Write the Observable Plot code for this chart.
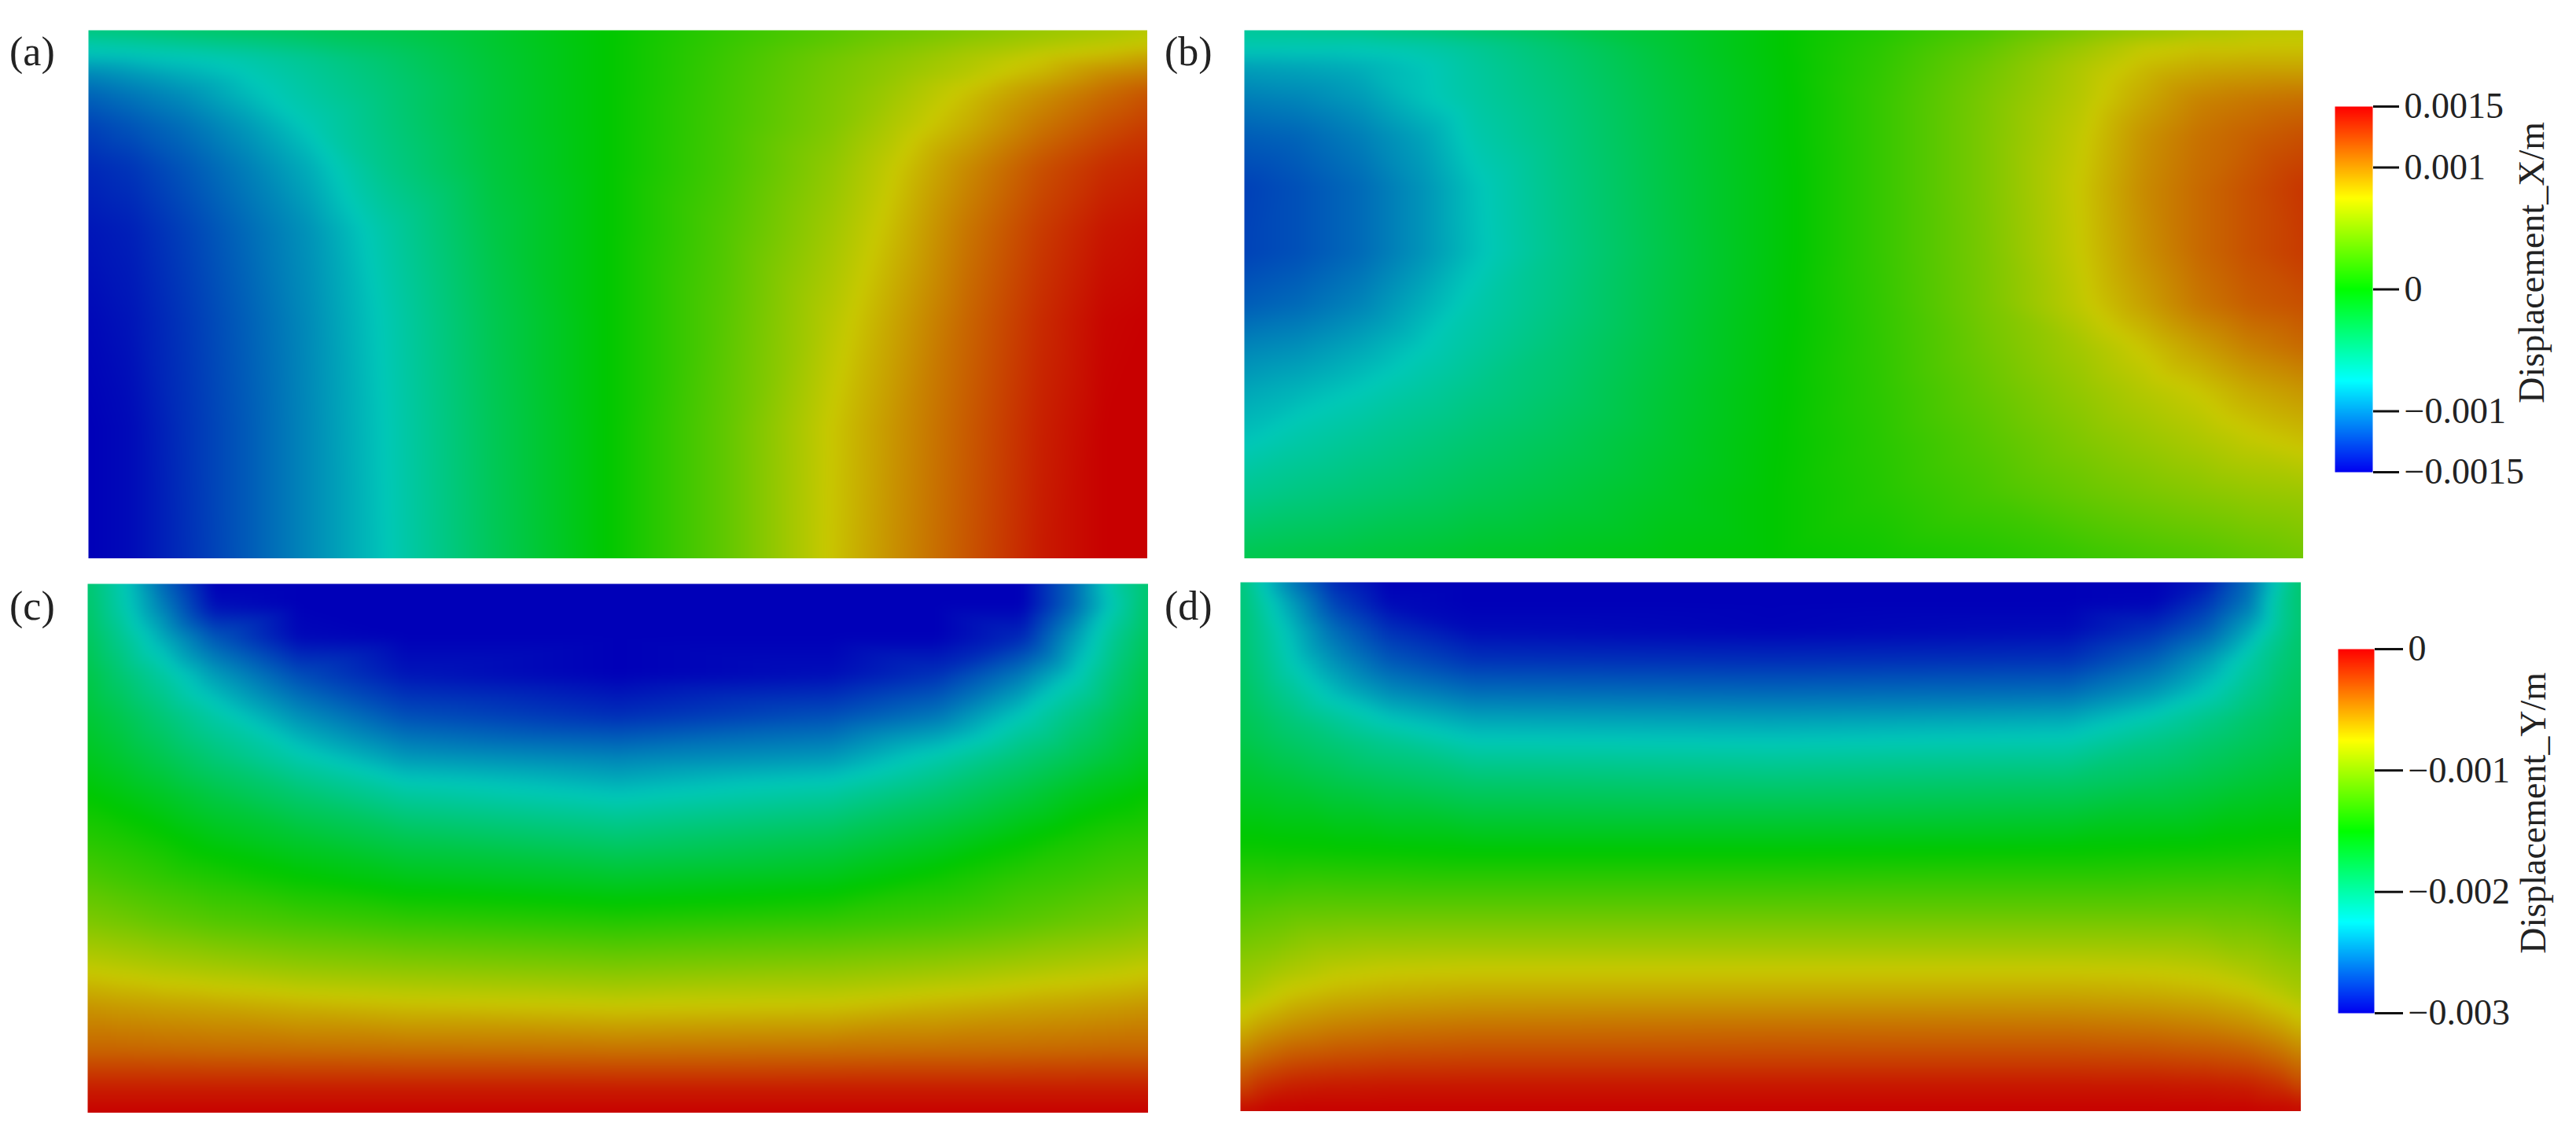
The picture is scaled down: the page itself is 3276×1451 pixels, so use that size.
<!DOCTYPE html>
<html><head><meta charset="utf-8">
<script src="https://cdn.jsdelivr.net/npm/d3@7"></script>
<script src="https://cdn.jsdelivr.net/npm/@observablehq/plot@0.6"></script>
<style>
html,body{margin:0;padding:0;background:#fff}
#root{position:relative;width:3276px;height:1451px;overflow:hidden;font-family:"Liberation Serif",serif}
#root>*{position:absolute}
.tag{font-size:52px;color:#222;line-height:1}
</style></head><body><div id="root"></div>
<script>
// values in millimetres; columns / rows are fractions of each panel's width / height from top-left
const xA=[0,.04,.09,.15,.21,.28,.38,.49,.6,.70,.76,.83,.90,.96,1];
const yA=[0,.025,.05,.08,.12,.18,.26,.38,.55,.75,1];
const zA=[
[-.5,-.48,-.44,-.40,-.36,-.31,-.2,0,.18,.32,.4,.48,.56,.62,.68],
[-.68,-.65,-.6,-.54,-.46,-.37,-.2,0,.2,.36,.46,.56,.64,.70,.74],
[-.8,-.78,-.74,-.68,-.58,-.44,-.22,0,.22,.42,.52,.64,.75,.82,.88],
[-.98,-.92,-.84,-.74,-.62,-.47,-.23,0,.23,.44,.55,.68,.82,.97,1.02],
[-1.12,-1.05,-.96,-.80,-.66,-.5,-.24,0,.24,.46,.60,.78,.96,1.1,1.18],
[-1.25,-1.18,-1.08,-.92,-.73,-.52,-.24,0,.25,.48,.66,.85,1.06,1.2,1.27],
[-1.35,-1.3,-1.18,-1.02,-.84,-.56,-.26,0,.26,.54,.74,.98,1.2,1.33,1.37],
[-1.42,-1.38,-1.26,-1.1,-.94,-.68,-.3,0,.3,.6,.8,1.06,1.28,1.42,1.45],
[-1.47,-1.42,-1.3,-1.14,-.97,-.73,-.34,0,.33,.68,.88,1.12,1.34,1.48,1.5],
[-1.5,-1.46,-1.32,-1.16,-.98,-.75,-.36,0,.36,.75,.94,1.16,1.38,1.5,1.5],
[-1.5,-1.46,-1.33,-1.16,-.98,-.76,-.37,0,.36,.76,.96,1.18,1.4,1.5,1.5]];

const xB=[0,.05,.11,.17,.22,.3,.4,.5,.6,.7,.79,.85,.9,.95,1];
const yB=[0,.03,.07,.13,.2,.3,.42,.52,.6,.68,.78,.88,1];
const zB=[
[-.62,-.6,-.56,-.5,-.44,-.34,-.2,-.02,.12,.28,.46,.55,.62,.68,.7],
[-.72,-.72,-.72,-.68,-.6,-.44,-.22,-.02,.16,.36,.58,.72,.76,.76,.76],
[-.9,-.88,-.84,-.76,-.64,-.47,-.24,-.03,.18,.42,.66,.8,.86,.88,.88],
[-1.03,-1.0,-.92,-.77,-.66,-.5,-.26,-.04,.2,.46,.69,.87,1.0,1.05,1.08],
[-1.15,-1.12,-1.02,-.88,-.7,-.52,-.27,-.04,.2,.47,.73,.95,1.07,1.14,1.2],
[-1.26,-1.2,-1.1,-.94,-.77,-.54,-.28,-.05,.2,.47,.76,.98,1.1,1.2,1.3],
[-1.25,-1.2,-1.1,-.94,-.78,-.55,-.29,-.05,.2,.46,.75,.96,1.1,1.2,1.28],
[-1.15,-1.1,-1.0,-.84,-.7,-.52,-.27,-.04,.19,.45,.72,.9,1.05,1.15,1.2],
[-1.0,-.96,-.87,-.75,-.64,-.47,-.25,-.03,.18,.42,.62,.77,.9,1.02,1.1],
[-.88,-.83,-.75,-.65,-.56,-.43,-.22,-.02,.17,.38,.56,.68,.76,.87,.94],
[-.76,-.68,-.6,-.52,-.45,-.35,-.19,-.01,.15,.32,.48,.57,.64,.72,.78],
[-.58,-.52,-.46,-.4,-.34,-.26,-.14,0,.13,.26,.38,.45,.5,.55,.58],
[-.32,-.28,-.24,-.2,-.16,-.12,-.06,0,.06,.12,.2,.26,.3,.36,.42]];

const xC=[0,.03,.07,.12,.2,.3,.5,.7,.8,.88,.93,.97,1];
const yC=[0,.04,.1,.17,.25,.33,.4,.48,.56,.64,.72,.8,.88,.95,1];
const zC=[
[-1.95,-2.2,-2.6,-3,-3,-3,-3,-3,-3,-3,-2.6,-2.15,-1.95],
[-1.93,-2.18,-2.52,-2.95,-3,-3,-3,-3,-3,-3,-2.6,-2.2,-1.93],
[-1.88,-2.08,-2.36,-2.68,-2.97,-3,-3,-3,-3,-2.85,-2.42,-2.08,-1.88],
[-1.8,-1.96,-2.16,-2.42,-2.72,-2.92,-3,-2.95,-2.82,-2.55,-2.27,-1.98,-1.8],
[-1.72,-1.82,-1.98,-2.18,-2.46,-2.7,-2.82,-2.7,-2.55,-2.25,-2.03,-1.85,-1.72],
[-1.62,-1.7,-1.82,-1.98,-2.2,-2.42,-2.5,-2.42,-2.2,-1.98,-1.84,-1.72,-1.62],
[-1.5,-1.56,-1.65,-1.78,-1.95,-2.14,-2.26,-2.14,-1.95,-1.76,-1.62,-1.54,-1.48],
[-1.36,-1.4,-1.47,-1.58,-1.7,-1.84,-1.96,-1.84,-1.68,-1.52,-1.42,-1.36,-1.34],
[-1.2,-1.25,-1.31,-1.38,-1.48,-1.58,-1.66,-1.58,-1.44,-1.32,-1.27,-1.22,-1.2],
[-1.02,-1.06,-1.12,-1.18,-1.24,-1.3,-1.36,-1.3,-1.24,-1.16,-1.1,-1.06,-1.02],
[-.79,-.82,-.86,-.9,-.96,-1.0,-1.05,-1.0,-.95,-.89,-.85,-.82,-.79],
[-.56,-.58,-.6,-.62,-.66,-.7,-.74,-.72,-.66,-.62,-.6,-.58,-.56],
[-.38,-.38,-.39,-.4,-.41,-.42,-.43,-.42,-.41,-.4,-.39,-.38,-.38],
[-.12,-.12,-.12,-.12,-.12,-.12,-.12,-.12,-.12,-.12,-.12,-.12,-.12],
[0,0,0,0,0,0,0,0,0,0,0,0,0]];

const xD=[0,.02,.05,.09,.14,.22,.5,.78,.86,.91,.95,.98,1];
const yD=[0,.04,.09,.15,.21,.26,.3,.38,.51,.62,.73,.78,.84,.9,.95,1];
const zD=[
[-2.0,-2.25,-2.55,-2.85,-3,-3,-3,-3,-3,-2.9,-2.6,-2.2,-1.95],
[-1.98,-2.16,-2.42,-2.75,-2.96,-3,-3,-3,-2.98,-2.8,-2.55,-2.13,-1.95],
[-1.96,-2.1,-2.32,-2.6,-2.82,-2.96,-2.99,-2.96,-2.82,-2.65,-2.38,-2.1,-1.95],
[-1.93,-2.05,-2.25,-2.46,-2.66,-2.8,-2.82,-2.8,-2.62,-2.42,-2.18,-2.0,-1.92],
[-1.88,-1.98,-2.12,-2.3,-2.46,-2.58,-2.6,-2.58,-2.42,-2.25,-2.06,-1.93,-1.87],
[-1.84,-1.9,-2.0,-2.12,-2.26,-2.38,-2.4,-2.36,-2.2,-2.06,-1.94,-1.86,-1.82],
[-1.8,-1.85,-1.92,-2.0,-2.1,-2.24,-2.26,-2.22,-2.06,-1.96,-1.88,-1.82,-1.78],
[-1.68,-1.7,-1.74,-1.8,-1.86,-1.94,-1.97,-1.92,-1.84,-1.78,-1.72,-1.68,-1.66],
[-1.45,-1.45,-1.46,-1.47,-1.48,-1.5,-1.5,-1.48,-1.46,-1.45,-1.44,-1.43,-1.43],
[-1.2,-1.17,-1.14,-1.13,-1.13,-1.13,-1.13,-1.13,-1.13,-1.13,-1.14,-1.17,-1.2],
[-.95,-.92,-.86,-.8,-.77,-.76,-.76,-.76,-.77,-.8,-.86,-.92,-.95],
[-.86,-.8,-.72,-.67,-.64,-.62,-.62,-.62,-.64,-.67,-.72,-.8,-.86],
[-.68,-.6,-.53,-.48,-.45,-.43,-.42,-.43,-.45,-.48,-.53,-.6,-.68],
[-.46,-.38,-.31,-.28,-.26,-.25,-.25,-.25,-.26,-.28,-.31,-.38,-.46],
[-.28,-.18,-.12,-.1,-.09,-.09,-.09,-.09,-.09,-.1,-.12,-.18,-.28],
[-.03,-.01,0,0,0,0,0,0,0,0,0,-.01,-.03]];

const ticksX=[-0.0015,-0.001,0,0.001,0.0015];
const ticksY=[-0.003,-0.002,-0.001,0];
const domainX=[-0.0015,-0.00075,0,0.00075,0.0015];
const domainY=[-0.003,-0.00225,-0.0015,-0.00075,0];
const litColors=["#0000b8","#00c8b8","#00c800","#c8c800","#c80000"];
const barColors=["#0000f0","#00ffff","#00ff00","#ffff00","#ff0000"];
const tags=[["(a)",12,40],["(b)",1481,40],["(c)",12,745],["(d)",1481,745]];

const root=document.getElementById("root");
const FONT='"Liberation Serif",serif';

function panel(xs,ys,zs,domain,left,top,right,bottom){
  const rows=[];
  ys.forEach((y,j)=>xs.forEach((x,i)=>rows.push({x,y,v:zs[j][i]/1000})));
  const svg=Plot.plot({
    width:right-left,height:bottom-top,margin:0,
    x:{domain:[0,1],axis:null},
    y:{domain:[1,0],axis:null},
    color:{type:"linear",domain,range:litColors,interpolate:"rgb",clamp:true},
    marks:[Plot.raster(rows,{x:"x",y:"y",fill:"v",interpolate:"barycentric",pixelSize:1,blur:6,imageRendering:"auto"})]
  });
  svg.style.left=left+"px";svg.style.top=top+"px";
  root.appendChild(svg);
}
panel(xA,yA,zA,domainX,112,38,1459,710);
panel(xB,yB,zB,domainX,1582,38,2929,710);
panel(xC,yC,zC,domainY,111,742,1460,1415);
panel(xD,yD,zD,domainY,1577,740,2926,1413);

function bar(ticks,domain,label,labelAt,left,top,barW,barH,tickSize){
  const pad=40,W=3276-left;
  const lo=d3.min(domain),hi=d3.max(domain);
  const svg=Plot.plot({
    width:W,height:barH+2*pad,marginTop:pad,marginBottom:pad,marginLeft:0,marginRight:W-barW,
    style:{fontFamily:FONT,background:"transparent",overflow:"visible"},
    x:{domain:[0,1],axis:null},
    y:{domain:[lo,hi]},
    color:{type:"linear",domain,range:barColors,interpolate:"rgb",clamp:true},
    marks:[
      Plot.raster({fill:(x,y)=>y,x1:0,x2:1,y1:lo,y2:hi,pixelSize:1}),
      Plot.axisY({anchor:"right",ticks,tickSize,tickPadding:7,strokeWidth:3,fontSize:46,fill:"#222",stroke:"#111",label:null,
        tickFormat:d=>String(d).replace("-","\u2212")}),
      Plot.text([label],{text:d=>d,y:labelAt,frameAnchor:"right",textAnchor:"middle",dx:203,rotate:-90,fontSize:46,fill:"#222"})
    ]
  });
  svg.style.left=left+"px";svg.style.top=(top-pad)+"px";
  root.appendChild(svg);
}
bar(ticksX,domainX,"Displacement_X/m",0.00022,2969,135,48,465,33);
bar(ticksY,domainY,"Displacement_Y/m",-0.00135,2973,825,46,463,36);

for(const [t,x,y] of tags){
  const d=document.createElement("div");d.className="tag";d.textContent=t;
  d.style.left=x+"px";d.style.top=y+"px";root.appendChild(d);
}
</script></body></html>
